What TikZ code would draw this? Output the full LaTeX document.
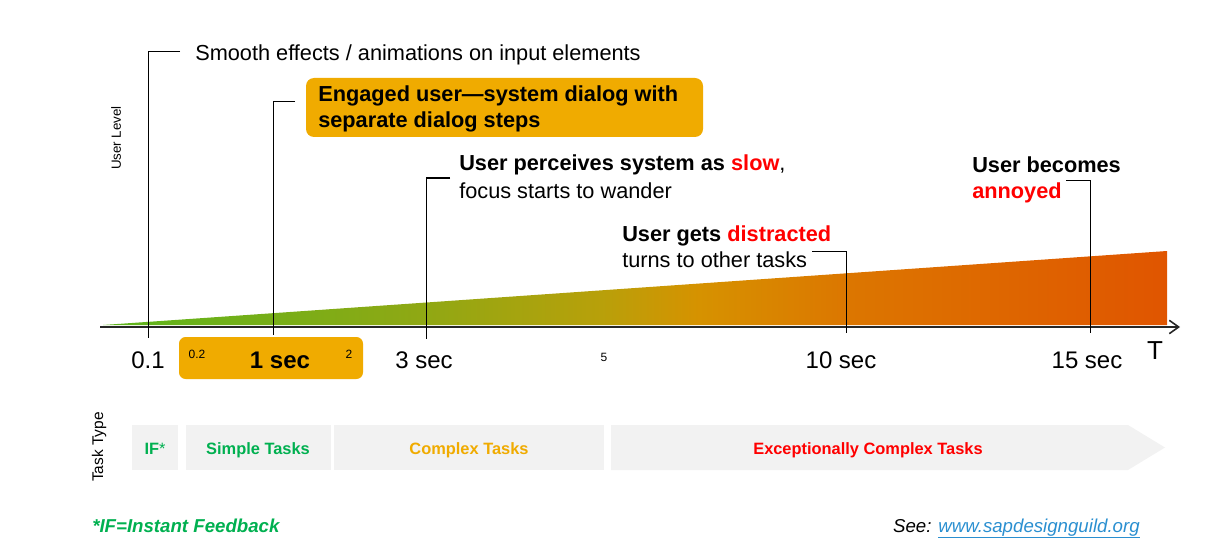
\documentclass[tikz,border=0pt]{standalone}
\usepackage{fontspec}
\setmainfont{Liberation Sans}
\usetikzlibrary{arrows.meta}
\definecolor{sapor}{HTML}{F0AB00}
\definecolor{sapgreen}{HTML}{00B050}
\definecolor{sapred}{HTML}{FF0000}
\definecolor{bandgray}{HTML}{F2F2F2}
\definecolor{linkblue}{HTML}{2A8FD0}
\definecolor{g0}{HTML}{5CB51C}
\definecolor{g1}{HTML}{8FA814}
\definecolor{g2}{HTML}{B8A00A}
\definecolor{g3}{HTML}{D69200}
\definecolor{g4}{HTML}{DC7600}
\definecolor{g5}{HTML}{E05500}
\pgfdeclarehorizontalshading{wedge}{100bp}{color(0bp)=(g0); color(25bp)=(g0); color(39.9bp)=(g1); color(48.4bp)=(g2); color(53bp)=(g3); color(60.1bp)=(g4); color(75bp)=(g5); color(100bp)=(g5)}
\newcommand\fmain{\fontsize{16.3}{19}\selectfont}
\newcommand\ftick{\fontsize{18}{21}\selectfont}
\newcommand\fsmall{\fontsize{9}{11}\selectfont}
\newcommand\ftask{\fontsize{12.3}{14}\selectfont}
\newcommand\faxis{\fontsize{10}{12}\selectfont}
\newcommand\ffoot{\fontsize{14}{16}\selectfont}
\begin{document}
\begin{tikzpicture}[x=0.75pt,y=-0.75pt,
  lbl/.style={inner sep=0pt, anchor=base west, font=\fmain},
  ticklbl/.style={inner sep=0pt, anchor=base, font=\ftick},
  smallnum/.style={inner sep=0pt, anchor=base, font=\fsmall},
  leader/.style={draw=black, line width=0.75pt},
  tasktxt/.style={inner sep=0pt, anchor=base, font=\ftask\bfseries},
  axislbl/.style={inner sep=0pt, rotate=90, font=\faxis}]
\useasboundingbox (0,0) rectangle (1227,549);

% gradient wedge
\shade[shading=wedge] (103,325) -- (1167,251) -- (1167,325) -- cycle;

% axis
\coordinate (axL) at (100,327);
\coordinate (axR) at (1180,327);
\draw[line width=1.6pt, draw=black!85, -{Straight Barb[length=7pt,width=10pt,line width=1.2pt]}] (axL) -- (axR);

% orange boxes
\fill[sapor, rounded corners=6pt] (306,78) rectangle (703,137);
\fill[sapor, rounded corners=5pt] (179,337) rectangle (363,379);

% annotation texts
\node[lbl] (smooth) at (195,61) {Smooth effects / animations on input elements};
\node[lbl, font=\fmain\bfseries] (eng1) at (318,102) {Engaged user—system dialog with};
\node[lbl, font=\fmain\bfseries] (eng2) at (318,128) {separate dialog steps};
\node[lbl, font=\fmain\bfseries] (slow1) at (459,171) {User perceives system as \textcolor{sapred}{slow}\textmd{,}};
\node[lbl] (slow2) at (459,198) {focus starts to wander};
\node[lbl, font=\fmain\bfseries] (dis1) at (622,241) {User gets \textcolor{sapred}{distracted}};
\node[lbl] (dis2) at (622,267) {turns to other tasks};
\node[lbl, font=\fmain\bfseries] (ann1) at (972,172) {User becomes};
\node[lbl, font=\fmain\bfseries, text=sapred] (ann2) at (972,198) {annoyed};

% leader lines
\coordinate (c01) at (148,52);
\coordinate (c1) at (273,102);
\coordinate (c3) at (426,178);
\coordinate (c10) at (846,251);
\coordinate (c15) at (1090,180);
\draw[leader] (180,52) -- (c01) -- (148,338);
\draw[leader] (295,102) -- (c1) -- (273,335);
\draw[leader] (450,178) -- (c3) -- (426,339);
\draw[leader] (812,251) -- (c10) -- (846,333);
\draw[leader] (1066,180) -- (c15) -- (1090,333);

% tick labels
\node[ticklbl] (t01) at (148,368) {0.1};
\node[ticklbl, font=\ftick\bfseries] (t1) at (280,368) {1 sec};
\node[ticklbl] (t3) at (424,368) {3 sec};
\node[ticklbl] (t10) at (841,368) {10 sec};
\node[ticklbl] (t15) at (1087,368) {15 sec};
\node[ticklbl, font=\fontsize{19.5}{22}\selectfont] (tT) at (1155,359) {T};
\node[smallnum] (t02) at (197,358) {0.2};
\node[smallnum] (t2) at (349,358) {2};
\node[smallnum] (t5) at (604,361) {5};

% axis titles
\node[axislbl] (ulevel) at (116,138) {User Level};
\node[axislbl, font=\fontsize{11.6}{13}\selectfont] (ttype) at (99,447) {Task Type};

% task band
\fill[bandgray] (132,425) rectangle (178,470);
\fill[bandgray] (186,425) rectangle (331,470);
\fill[bandgray] (334,425) rectangle (604,470);
\fill[bandgray] (611,425) -- (1128,425) -- (1165,447.5) -- (1128,470) -- (611,470) -- cycle;
\node[tasktxt, text=sapgreen] (tif) at (155,454) {IF\textmd{*}};
\node[tasktxt, text=sapgreen] (tsimple) at (258,454) {Simple Tasks};
\node[tasktxt, text=sapor] (tcomplex) at (469,454) {Complex Tasks};
\node[tasktxt, text=sapred] (texc) at (868,454) {Exceptionally Complex Tasks};

% footer
\node[inner sep=0pt, anchor=base west, font=\ffoot\bfseries\itshape, text=sapgreen] (foot1) at (92,532) {*IF=Instant Feedback};
\node[inner sep=0pt, anchor=base east, font=\ffoot\itshape] (foot2) at (1140,532) {See: \textcolor{linkblue}{\underline{www.sapdesignguild.org}}};
\end{tikzpicture}
\end{document}
